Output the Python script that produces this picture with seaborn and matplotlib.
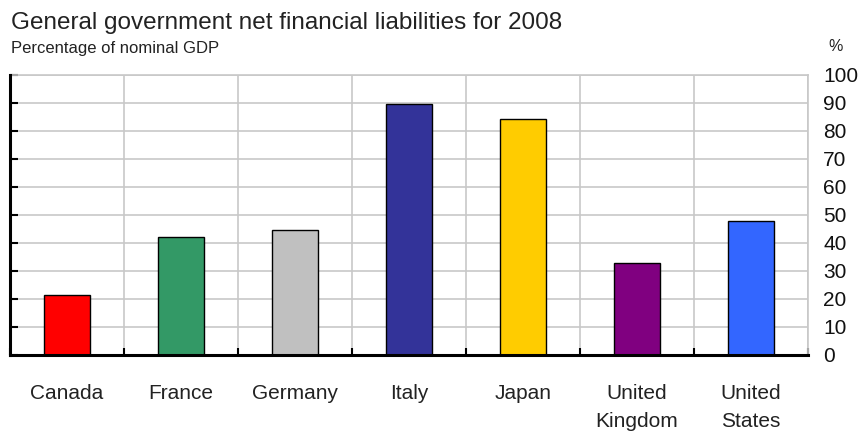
import matplotlib
matplotlib.use("Agg")
import matplotlib.pyplot as plt
import seaborn as sns
import pandas as pd
import numpy as np

countries = ["Canada", "France", "Germany", "Italy", "Japan", "United\nKingdom", "United\nStates"]
values = [21.5, 42.0, 44.8, 89.7, 84.3, 33.0, 48.0]
colors = ["#FF0000", "#339966", "#C0C0C0", "#333399", "#FFCC00", "#800080", "#3366FF"]
yticks = [0, 10, 20, 30, 40, 50, 60, 70, 80, 90, 100]

sns.set_theme(style="white")
plt.rcParams["font.family"] = ["Liberation Sans", "DejaVu Sans"]

df = pd.DataFrame({"country": countries, "value": values})

fig = plt.figure(figsize=(8.65, 4.38), dpi=100)
ax = fig.add_axes([0.0116, 0.1895, 0.9225, 0.6393])

sns.barplot(data=df, x="country", y="value", hue="country", palette=colors,
            order=countries, hue_order=countries, legend=False,
            edgecolor="black", linewidth=1.0, width=0.41, saturation=1, ax=ax, zorder=3)

ax.set_xlim(-0.5, len(countries) - 0.5)
ax.set_ylim(0, 100)
ax.set_xlabel("")
ax.set_ylabel("")

ax.set_yticks(yticks)
ax.set_yticklabels([str(v) for v in yticks])
ax.tick_params(axis="y", left=True, right=False, labelleft=False, labelright=True,
               direction="in", length=6, width=1.5, color="black", pad=11,
               labelsize=15, labelcolor="#111111")

ax.set_xticks(np.arange(len(countries)))
ax.set_xticklabels(countries, linespacing=1.6)
ax.tick_params(axis="x", which="major", length=0, pad=21, labelsize=15, labelcolor="#222222")
ax.set_xticks(np.arange(-0.5, len(countries) + 0.5, 1), minor=True)
ax.tick_params(axis="x", which="minor", bottom=True, direction="in", length=5, width=1.5, color="black")

ax.grid(False)
ax.yaxis.grid(True, color="#C8C8C8", linewidth=1.2, zorder=0)
ax.xaxis.grid(True, which="minor", color="#C8C8C8", linewidth=1.2, zorder=0)
ax.set_axisbelow(True)

for s in ["left", "bottom"]:
    ax.spines[s].set_color("black")
    ax.spines[s].set_linewidth(2.2)
    ax.spines[s].set_zorder(5)
for s in ["top", "right"]:
    ax.spines[s].set_visible(True)
    ax.spines[s].set_color("#C8C8C8")
    ax.spines[s].set_linewidth(1.2)

fig.text(0.013, 0.948, "General government net financial liabilities for 2008",
         fontsize=17.5, color="#222222", va="center", ha="left")
fig.text(0.013, 0.890, "Percentage of nominal GDP", fontsize=12, color="#222222",
         va="center", ha="left")
fig.text(0.966, 0.893, "%", fontsize=11.5, color="#222222", va="center", ha="center")

fig.savefig("out.png", dpi=100)
